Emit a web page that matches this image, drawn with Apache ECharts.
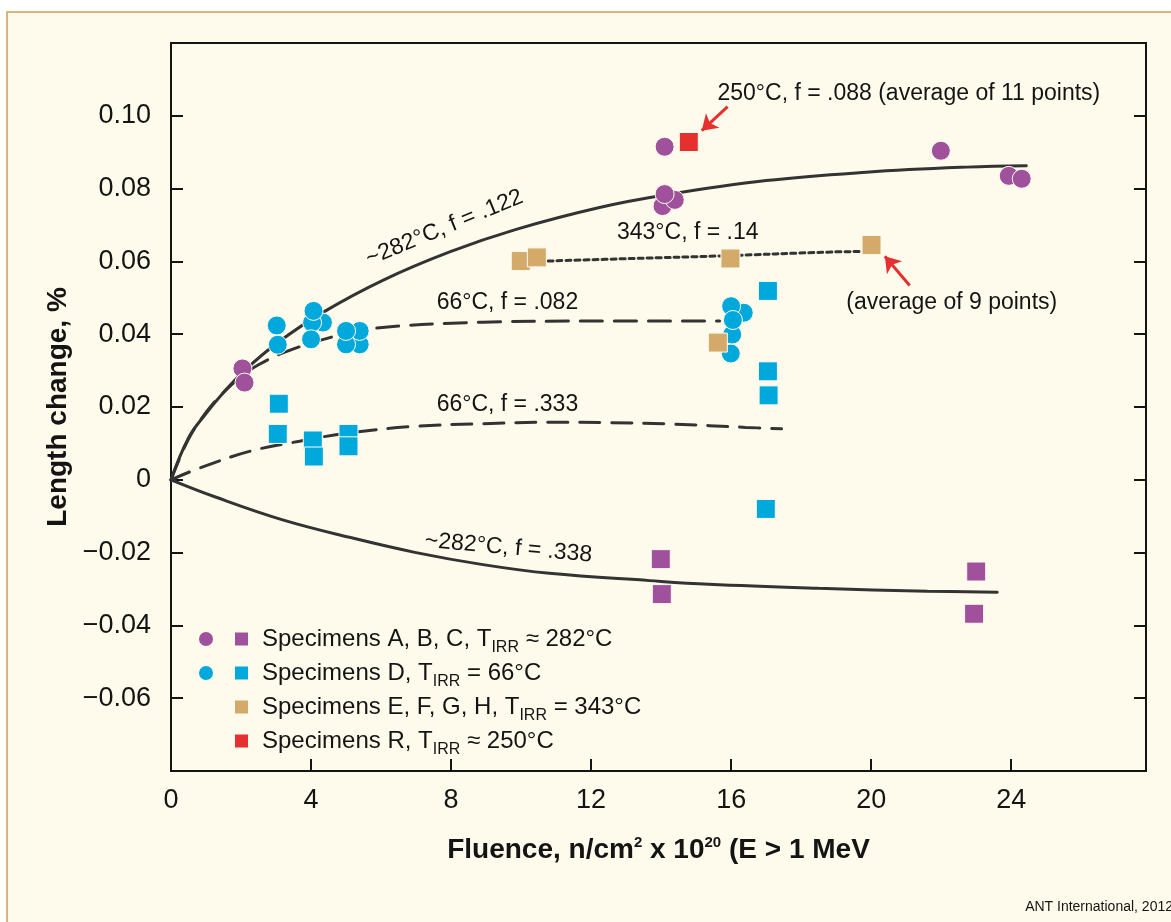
<!DOCTYPE html>
<html>
<head>
<meta charset="utf-8">
<title>Length change vs fluence</title>
<script src="https://cdn.jsdelivr.net/npm/echarts@6.0.0/dist/echarts.min.js"></script>
<style>
html, body { margin: 0; padding: 0; background: #fff; overflow: hidden; }
#frame { position: absolute; left: 6px; top: 11px; width: 1200px; height: 950px;
  background: #fffbec; border: 2px solid #d8b57a; }
#chart { position: absolute; left: 0; top: 0; width: 1171px; height: 922px; }
</style>
</head>
<body>
<div id="frame"></div>
<div id="chart"></div>
<script>
// measured points, [fluence, length change %]
const abcCircles = [[2.04, 0.0306], [2.1, 0.0267], [14.1, 0.0915], [14.04, 0.0752], [14.39, 0.0769],
	[14.1, 0.0785], [21.99, 0.0904], [23.93, 0.0835], [24.3, 0.0827]];
const abcSquares = [[13.99, -0.0218], [14.02, -0.0314], [23.0, -0.0252], [22.94, -0.0368]];
const dCircles = [[3.02, 0.0424], [3.05, 0.0371], [4.34, 0.0432], [4.03, 0.0432], [4.0, 0.0386],
	[4.07, 0.0464], [5.39, 0.0372], [5.0, 0.0372], [5.39, 0.0409], [5.0, 0.0409],
	[16.36, 0.0459], [16.0, 0.0477], [15.99, 0.0347], [16.03, 0.0399], [16.05, 0.0439]];
const dSquares = [[3.08, 0.0209], [3.05, 0.0126], [4.05, 0.0108], [4.08, 0.0064], [5.07, 0.0126],
	[5.07, 0.0092], [17.05, 0.0519], [17.05, 0.0298], [17.07, 0.0232], [16.99, -0.008]];
const efghSquares = [[9.99, 0.0601], [10.45, 0.0611], [15.98, 0.0608], [20.01, 0.0645], [15.62, 0.0377]];
const rSquares = [[14.79, 0.0928]];

// fitted curves
const fit282upper = [[0, 0], [0.5, 0.0115], [1.0, 0.0182], [1.5, 0.0240], [2.1, 0.0300], [3.05, 0.0377],
	[4.34, 0.0460], [6.05, 0.0548], [7.96, 0.0626], [9.86, 0.0688], [12.24, 0.0748], [14.15, 0.0783],
	[17.0, 0.0822], [19.86, 0.0845], [22.72, 0.0859], [24.43, 0.0863]];
const fit66upper = [[0, 0], [0.5, 0.0112], [1.0, 0.0185], [1.5, 0.0240], [2.0, 0.0283], [2.5, 0.0316],
	[3.29, 0.0352], [4.62, 0.0393], [5.77, 0.0416], [8.91, 0.0433], [11.77, 0.0436], [15.67, 0.0436]];
const fit66lower = [[0, 0], [0.81, 0.0032], [2.24, 0.0078], [3.67, 0.0106], [5.1, 0.0129], [7.0, 0.0147],
	[8.91, 0.0154], [10.81, 0.0158], [12.55, 0.0157], [14.32, 0.0153], [16.41, 0.0144], [17.44, 0.014]];
const fit282lower = [[0, 0], [1.29, -0.0048], [3.19, -0.011], [5.1, -0.0158], [7.0, -0.0200],
	[8.91, -0.0233], [10.81, -0.0257], [13.67, -0.0277], [15.36, -0.0287], [18.49, -0.0298],
	[21.61, -0.0306], [23.6, -0.0309]];
const fit343 = [[10.77, 0.0601], [13.19, 0.0608], [15.67, 0.0615], [18.91, 0.0626], [19.72, 0.0627]];

// arrows from label to point
const arrow250 = [[15.9, 0.1025], [15.16, 0.0959]];
const arrow343 = [[21.1, 0.0534], [20.39, 0.0614]];

const yTickValues = [0.10, 0.08, 0.06, 0.04, 0.02, 0, -0.02, -0.04, -0.06];
const yTickLabels = ["0.10", "0.08", "0.06", "0.04", "0.02", "0", "\u22120.02", "\u22120.04", "\u22120.06"];

const legendLabels = {
	"A, B, C": "Specimens A, B, C, T{sub|IRR} \u2248 282\u00b0C",
	"D": "Specimens D, T{sub|IRR} = 66\u00b0C",
	"E, F, G, H": "Specimens E, F, G, H, T{sub|IRR} = 343\u00b0C",
	"R": "Specimens R, T{sub|IRR} \u2248 250\u00b0C",
};

const annotations = [
	{ text: "~282\u00b0C, f = .122", at: [7.81, 0.0692], rotation: 22.4 },
	{ text: "66\u00b0C, f = .082", at: [9.61, 0.0488], rotation: 0 },
	{ text: "66\u00b0C, f = .333", at: [9.61, 0.0207], rotation: 0 },
	{ text: "~282\u00b0C, f = .338", at: [9.64, -0.0187], rotation: -5 },
	{ text: "343\u00b0C, f = .14", at: [14.76, 0.0678], rotation: 0 },
	{ text: "250\u00b0C, f = .088 (average of 11 points)", at: [15.61, 0.1061], rotation: 0, align: "left" },
	{ text: "(average of 9 points)", at: [22.3, 0.0488], rotation: 0 },
];

const FONT = "'Liberation Sans', Arial, Helvetica, sans-serif";
const PURPLE = "#a0519b";
const BLUE = "#00a8dc";
const TAN = "#d4aa6b";
const RED = "#e5302f";
const INK = "#141414";

const chart = echarts.init(document.getElementById("chart"), null, { renderer: "canvas" });

function curve(name, data, type) {
	return {
		name: name,
		type: "line",
		data: data,
		smooth: 0.4,
		showSymbol: false,
		silent: true,
		z: 2,
		lineStyle: { color: "#333", width: 3, type: type, cap: "round" },
	};
}

function points(name, data, symbol, color) {
	return {
		name: name,
		type: "scatter",
		data: data,
		symbol: symbol,
		symbolSize: 19,
		z: 3,
		itemStyle: { color: color, borderColor: "#fffbec", borderWidth: 1, opacity: 1 },
	};
}

const legendText = {
	fontFamily: FONT,
	fontSize: 24,
	color: INK,
	lineHeight: 34,
	padding: [0, 0, 0, 8],
	rich: {
		sub: { fontFamily: FONT, fontSize: 16, color: INK, verticalAlign: "bottom", lineHeight: 26 },
	},
};

const redSeries = points("R", rSquares, "rect", RED);
redSeries.markLine = {
	silent: true,
	symbol: ["none", "arrow"],
	symbolSize: 15,
	label: { show: false },
	lineStyle: { color: RED, width: 3, type: "solid" },
	data: [
		[{ coord: arrow250[0] }, { coord: arrow250[1] }],
		[{ coord: arrow343[0] }, { coord: arrow343[1] }],
	],
};

chart.setOption({
	animation: false,
	backgroundColor: "transparent",
	grid: {
		left: 171, right: 25, top: 43, bottom: 151,
		show: true, borderColor: INK, borderWidth: 2, backgroundColor: "transparent",
	},
	legend: [
		{
			data: ["A, B, C circles", "D circles"],
			orient: "vertical", left: 197, top: 622, padding: 0, itemGap: 0,
			itemWidth: 16, itemHeight: 16, icon: "circle", selectedMode: false,
			formatter: (name) => legendLabels[name.replace(" circles", "")],
			textStyle: Object.assign({}, legendText, { color: "transparent",
				rich: { sub: Object.assign({}, legendText.rich.sub, { color: "transparent" }) } }),
		},
		{
			data: ["A, B, C", "D", "E, F, G, H", "R"],
			orient: "vertical", left: 233, top: 622, padding: 0, itemGap: 0,
			itemWidth: 15, itemHeight: 15, icon: "rect", selectedMode: false,
			formatter: (name) => legendLabels[name],
			textStyle: legendText,
		},
	],
	xAxis: {
		type: "value", min: 0, max: 27.85, interval: 4,
		axisLine: { show: false, onZero: false },
		axisTick: { inside: true, length: 12, lineStyle: { color: INK, width: 2 } },
		axisLabel: { fontFamily: FONT, fontSize: 27, color: INK, margin: 16, showMaxLabel: false },
		splitLine: { show: false },
		name: "Fluence, n/cm{sup|2} x 10{sup|20} (E > 1 MeV",
		nameLocation: "middle", nameGap: 64,
		nameTextStyle: {
			fontFamily: FONT, fontSize: 28, fontWeight: "bold", color: INK,
			rich: { sup: { fontFamily: FONT, fontSize: 15, fontWeight: "bold", color: INK, verticalAlign: "top", lineHeight: 30 } },
		},
	},
	yAxis: [
		{
			type: "value", min: -0.08, max: 0.12, interval: 0.02,
			axisLine: { show: false, onZero: false },
			axisTick: { inside: true, length: 12, lineStyle: { color: INK, width: 2 } },
			axisLabel: {
				fontFamily: FONT, fontSize: 27, color: INK, margin: 20,
				formatter: (v) => {
					const i = yTickValues.findIndex((t) => Math.abs(t - v) < 1e-6);
					return i < 0 ? "" : yTickLabels[i];
				},
			},
			splitLine: { show: false },
			name: "Length change, %",
			nameLocation: "middle", nameGap: 99, nameRotate: 90,
			nameTextStyle: { fontFamily: FONT, fontSize: 28, fontWeight: "bold", color: INK },
		},
		{
			type: "value", min: -0.08, max: 0.12, interval: 0.02, position: "right",
			axisLine: { show: false, onZero: false },
			axisTick: { inside: true, length: 12, lineStyle: { color: INK, width: 2 } },
			axisLabel: { show: false },
			splitLine: { show: false },
		},
	],
	series: [
		curve("f122", fit282upper, "solid"),
		curve("f082", fit66upper, [22, 12]),
		curve("f333", fit66lower, [20, 12]),
		curve("f338", fit282lower, "solid"),
		curve("f14", fit343, [5, 4]),
		points("A, B, C circles", abcCircles, "circle", PURPLE),
		points("A, B, C", abcSquares, "rect", PURPLE),
		points("D circles", dCircles, "circle", BLUE),
		points("D", dSquares, "rect", BLUE),
		points("E, F, G, H", efghSquares, "rect", TAN),
		redSeries,
	],
});

// curve labels placed at data positions
const graphics = annotations.map((a) => {
	const p = chart.convertToPixel({ xAxisIndex: 0, yAxisIndex: 0 }, a.at);
	return {
		type: "text",
		x: p[0], y: p[1],
		rotation: (a.rotation * Math.PI) / 180,
		z: 10,
		style: {
			text: a.text,
			fontFamily: FONT, fontSize: 23, fill: INK,
			align: a.align || "center", verticalAlign: "middle",
		},
	};
});
graphics.push({
	type: "text",
	right: -2, top: 900, z: 10,
	style: { text: "ANT International, 2012", fontFamily: FONT, fontSize: 14, fill: INK },
});
chart.setOption({ graphic: graphics });
</script>
</body>
</html>
